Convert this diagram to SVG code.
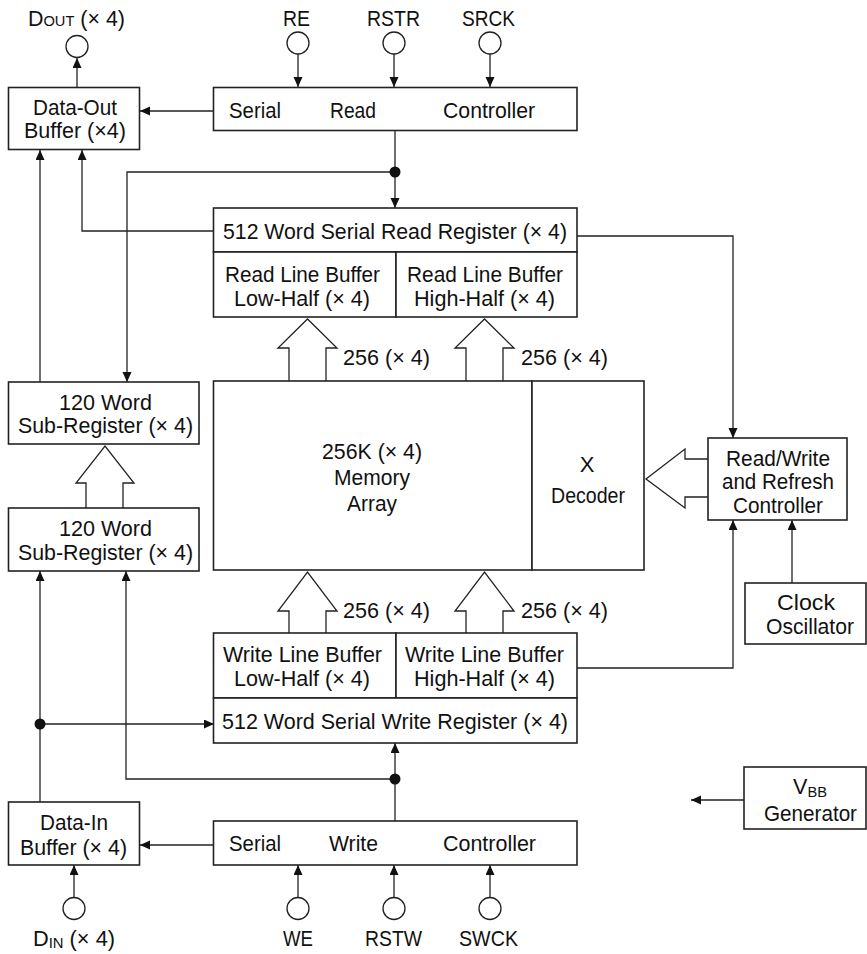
<svg xmlns="http://www.w3.org/2000/svg" width="867" height="954" viewBox="0 0 867 954">
<defs>
<marker id="ah" markerUnits="userSpaceOnUse" markerWidth="11" markerHeight="10" refX="10" refY="4.5" orient="auto">
<path d="M0,0 L10,4.5 L0,9 z" fill="#111"/>
</marker>
<style>
.box{fill:#fff;stroke:#222;stroke-width:1.6}
.ar{fill:none;stroke:#222;stroke-width:1.3;marker-end:url(#ah)}
.hol{fill:#fff;stroke:#222;stroke-width:1.3}
.pin{fill:#fff;stroke:#222;stroke-width:1.3}
.dot{fill:#111}
text{font-family:"Liberation Sans",Arial,sans-serif;font-size:22px;fill:#111}
</style>
</defs>
<rect width="867" height="954" fill="#fff"/>

<g id="connectors">
<line class="ar" x1="298" y1="54" x2="298" y2="87"/>
<line class="ar" x1="394" y1="54" x2="394" y2="87"/>
<line class="ar" x1="490" y1="54" x2="490" y2="87"/>
<line class="ar" x1="77" y1="87" x2="77" y2="58"/>
<line class="ar" x1="214" y1="111" x2="140" y2="111"/>
<line class="ar" x1="395" y1="131" x2="395" y2="208"/>
<polyline class="ar" points="395,172 127,172 127,382"/>
<polyline class="ar" points="214,231 82,231 82,150"/>
<line class="ar" x1="40" y1="382" x2="40" y2="150"/>
<polyline class="ar" points="577,236 733,236 733,438"/>
<polyline class="ar" points="577,668 733,668 733,520"/>
<line class="ar" x1="792" y1="583" x2="792" y2="520"/>
<line class="ar" x1="744" y1="800" x2="691" y2="800"/>
<line class="ar" x1="40" y1="802" x2="40" y2="571"/>
<line class="ar" x1="40" y1="724" x2="214" y2="724"/>
<line class="ar" x1="395" y1="821" x2="395" y2="743"/>
<polyline class="ar" points="395,779 126,779 126,571"/>
<line class="ar" x1="214" y1="845" x2="140" y2="845"/>
<line class="ar" x1="298" y1="897" x2="298" y2="865"/>
<line class="ar" x1="394" y1="897" x2="394" y2="865"/>
<line class="ar" x1="490" y1="897" x2="490" y2="865"/>
<line class="ar" x1="74" y1="897" x2="74" y2="865"/>
<circle class="dot" cx="395" cy="172" r="5.5"/>
<circle class="dot" cx="40" cy="724" r="5.5"/>
<circle class="dot" cx="395" cy="779" r="5.5"/>
<path class="hol" d="M289,381 V348 H278 L307.5,319 L337,348 H326 V381"/>
<path class="hol" d="M466,381 V348 H455 L484.5,319 L514,348 H503 V381"/>
<path class="hol" d="M289,633 V611 H278 L307.5,572 L337,611 H326 V633"/>
<path class="hol" d="M466,633 V611 H455 L484.5,572 L514,611 H503 V633"/>
<path class="hol" d="M86,508 V483 H76 L105,446 L134,483 H123 V508"/>
<path class="hol" d="M708,459 H685 V449 L646,479 L685,508 V497 H708"/>
</g>

<g id="pin-dout">
<circle class="pin" cx="77" cy="46.5" r="11"/>
<text x="28" y="26" textLength="97" lengthAdjust="spacingAndGlyphs">D<tspan font-size="15">OUT</tspan> (× 4)</text>
</g>
<g id="pin-re">
<circle class="pin" cx="298" cy="43" r="11"/>
<text x="283" y="26" textLength="27" lengthAdjust="spacingAndGlyphs">RE</text>
</g>
<g id="pin-rstr">
<circle class="pin" cx="394" cy="43" r="11"/>
<text x="367" y="26" textLength="53" lengthAdjust="spacingAndGlyphs">RSTR</text>
</g>
<g id="pin-srck">
<circle class="pin" cx="490" cy="43" r="11"/>
<text x="462" y="26" textLength="53" lengthAdjust="spacingAndGlyphs">SRCK</text>
</g>

<g id="data-out-buffer">
<rect class="box" x="8.5" y="87.5" width="131" height="62"/>
<text x="33" y="115" textLength="84" lengthAdjust="spacingAndGlyphs">Data-Out</text>
<text x="24" y="138" textLength="102" lengthAdjust="spacingAndGlyphs">Buffer (×4)</text>
</g>

<g id="serial-read-controller">
<rect class="box" x="213.5" y="87.5" width="363.5" height="43"/>
<text x="229" y="118" textLength="52" lengthAdjust="spacingAndGlyphs">Serial</text>
<text x="330" y="118" textLength="46" lengthAdjust="spacingAndGlyphs">Read</text>
<text x="443" y="118" textLength="92" lengthAdjust="spacingAndGlyphs">Controller</text>
</g>

<g id="serial-read-register">
<rect class="box" x="213.5" y="208" width="363.5" height="44"/>
<text x="223" y="239" textLength="344" lengthAdjust="spacingAndGlyphs">512 Word Serial Read Register (× 4)</text>
</g>
<g id="read-line-buffer-low">
<rect class="box" x="213.5" y="252" width="182.5" height="65"/>
<text x="225" y="282" textLength="155" lengthAdjust="spacingAndGlyphs">Read Line Buffer</text>
<text x="234" y="306" textLength="136" lengthAdjust="spacingAndGlyphs">Low-Half (× 4)</text>
</g>
<g id="read-line-buffer-high">
<rect class="box" x="396" y="252" width="181" height="65"/>
<text x="407" y="282" textLength="156" lengthAdjust="spacingAndGlyphs">Read Line Buffer</text>
<text x="414" y="306" textLength="141" lengthAdjust="spacingAndGlyphs">High-Half (× 4)</text>
</g>

<g id="bus-labels">
<text x="343" y="365" textLength="87" lengthAdjust="spacingAndGlyphs">256 (× 4)</text>
<text x="521" y="365" textLength="87" lengthAdjust="spacingAndGlyphs">256 (× 4)</text>
<text x="343" y="618" textLength="87" lengthAdjust="spacingAndGlyphs">256 (× 4)</text>
<text x="521" y="618" textLength="87" lengthAdjust="spacingAndGlyphs">256 (× 4)</text>
</g>

<g id="memory-array">
<rect class="box" x="213.5" y="381" width="318.5" height="189"/>
<text x="322" y="459" textLength="100" lengthAdjust="spacingAndGlyphs">256K (× 4)</text>
<text x="334" y="485" textLength="76" lengthAdjust="spacingAndGlyphs">Memory</text>
<text x="347" y="511" textLength="50" lengthAdjust="spacingAndGlyphs">Array</text>
</g>
<g id="x-decoder">
<rect class="box" x="532" y="381" width="112" height="189"/>
<text x="587" y="472" text-anchor="middle">X</text>
<text x="551" y="503" textLength="74" lengthAdjust="spacingAndGlyphs">Decoder</text>
</g>

<g id="rw-refresh-controller">
<rect class="box" x="708" y="438" width="139" height="82"/>
<text x="726" y="466" textLength="104" lengthAdjust="spacingAndGlyphs">Read/Write</text>
<text x="722" y="489" textLength="112" lengthAdjust="spacingAndGlyphs">and Refresh</text>
<text x="733" y="513" textLength="90" lengthAdjust="spacingAndGlyphs">Controller</text>
</g>

<g id="clock-oscillator">
<rect class="box" x="745" y="583" width="121" height="61"/>
<text x="777" y="610" textLength="58" lengthAdjust="spacingAndGlyphs">Clock</text>
<text x="766" y="634" textLength="88" lengthAdjust="spacingAndGlyphs">Oscillator</text>
</g>

<g id="sub-register-upper">
<rect class="box" x="8.5" y="382" width="190.5" height="62"/>
<text x="59" y="410" textLength="93" lengthAdjust="spacingAndGlyphs">120 Word</text>
<text x="18" y="433" textLength="175" lengthAdjust="spacingAndGlyphs">Sub-Register (× 4)</text>
</g>
<g id="sub-register-lower">
<rect class="box" x="8.5" y="508" width="190.5" height="63"/>
<text x="59" y="536" textLength="93" lengthAdjust="spacingAndGlyphs">120 Word</text>
<text x="18" y="560" textLength="175" lengthAdjust="spacingAndGlyphs">Sub-Register (× 4)</text>
</g>

<g id="write-line-buffer-low">
<rect class="box" x="213.5" y="633" width="182.5" height="65"/>
<text x="223" y="662" textLength="159" lengthAdjust="spacingAndGlyphs">Write Line Buffer</text>
<text x="234" y="686" textLength="136" lengthAdjust="spacingAndGlyphs">Low-Half (× 4)</text>
</g>
<g id="write-line-buffer-high">
<rect class="box" x="396" y="633" width="181" height="65"/>
<text x="405" y="662" textLength="159" lengthAdjust="spacingAndGlyphs">Write Line Buffer</text>
<text x="414" y="686" textLength="141" lengthAdjust="spacingAndGlyphs">High-Half (× 4)</text>
</g>
<g id="serial-write-register">
<rect class="box" x="213.5" y="698" width="363.5" height="45"/>
<text x="222" y="729" textLength="346" lengthAdjust="spacingAndGlyphs">512 Word Serial Write Register (× 4)</text>
</g>

<g id="vbb-generator">
<rect class="box" x="744" y="767" width="122" height="62"/>
<text x="793" y="794" textLength="34" lengthAdjust="spacingAndGlyphs">V<tspan font-size="15" dy="3">BB</tspan></text>
<text x="764" y="821" textLength="93" lengthAdjust="spacingAndGlyphs">Generator</text>
</g>

<g id="data-in-buffer">
<rect class="box" x="8.5" y="802" width="131" height="63"/>
<text x="40" y="830" textLength="68" lengthAdjust="spacingAndGlyphs">Data-In</text>
<text x="20" y="855" textLength="107" lengthAdjust="spacingAndGlyphs">Buffer (× 4)</text>
</g>

<g id="serial-write-controller">
<rect class="box" x="213.5" y="821" width="363.5" height="44"/>
<text x="229" y="851" textLength="52" lengthAdjust="spacingAndGlyphs">Serial</text>
<text x="329" y="851" textLength="49" lengthAdjust="spacingAndGlyphs">Write</text>
<text x="443" y="851" textLength="93" lengthAdjust="spacingAndGlyphs">Controller</text>
</g>

<g id="pin-din">
<circle class="pin" cx="74" cy="908.5" r="11"/>
<text x="33" y="946" textLength="82" lengthAdjust="spacingAndGlyphs">D<tspan font-size="15" dy="2">IN</tspan><tspan dy="-2"> (× 4)</tspan></text>
</g>
<g id="pin-we">
<circle class="pin" cx="298" cy="908.5" r="11"/>
<text x="283" y="946" textLength="30" lengthAdjust="spacingAndGlyphs">WE</text>
</g>
<g id="pin-rstw">
<circle class="pin" cx="394" cy="908.5" r="11"/>
<text x="365" y="946" textLength="57" lengthAdjust="spacingAndGlyphs">RSTW</text>
</g>
<g id="pin-swck">
<circle class="pin" cx="490" cy="908.5" r="11"/>
<text x="459" y="946" textLength="59" lengthAdjust="spacingAndGlyphs">SWCK</text>
</g>
</svg>
